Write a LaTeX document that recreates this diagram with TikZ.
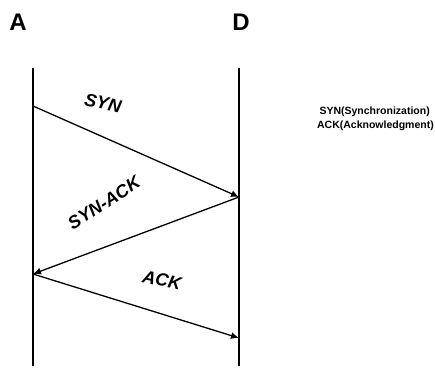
\documentclass[tikz,border=0pt]{standalone}
\usepackage{fontspec}
\setmainfont{Liberation Sans}
\usetikzlibrary{arrows.meta}
\begin{document}
\begin{tikzpicture}[x=1pt,y=-1pt,
  life/.style={line width=2.6pt},
  msg/.style={line width=1.3pt,-{Latex[length=8pt,width=7pt]}},
  head/.style={font=\bfseries\fontsize{24}{26}\selectfont,inner sep=0pt},
  lbl/.style={font=\bfseries\itshape\fontsize{18}{20}\selectfont,inner sep=0pt},
  leg/.style={font=\bfseries\fontsize{10.5}{12}\selectfont,inner sep=0pt,anchor=east}]
\useasboundingbox (0,0) rectangle (435,367);
\node[head] (A) at (18,22) {A};
\node[head] (D) at (241,22) {D};
\coordinate (Atop) at (33,68);
\coordinate (Abot) at (33,366);
\coordinate (Dtop) at (239,68);
\coordinate (Dbot) at (239,366);
\draw[life] (Atop) -- (Abot);
\draw[life] (Dtop) -- (Dbot);
\coordinate (a1) at (33,106);
\coordinate (d1) at (239,197);
\coordinate (a2) at (33,274);
\coordinate (d2) at (239,338);
\draw[msg] (a1) -- (d1);
\draw[msg] (d1) -- (a2);
\draw[msg] (a2) -- (d2);
\node[lbl,rotate=-12] (syn) at (103,103) {SYN};
\node[lbl,rotate=33] (synack) at (104,203) {SYN-ACK};
\node[lbl,rotate=-12] (ack) at (162,280) {ACK};
\node[leg] (l1) at (430,112) {SYN(Synchronization)};
\node[leg] (l2) at (434,126) {ACK(Acknowledgment)};
\end{tikzpicture}
\end{document}
